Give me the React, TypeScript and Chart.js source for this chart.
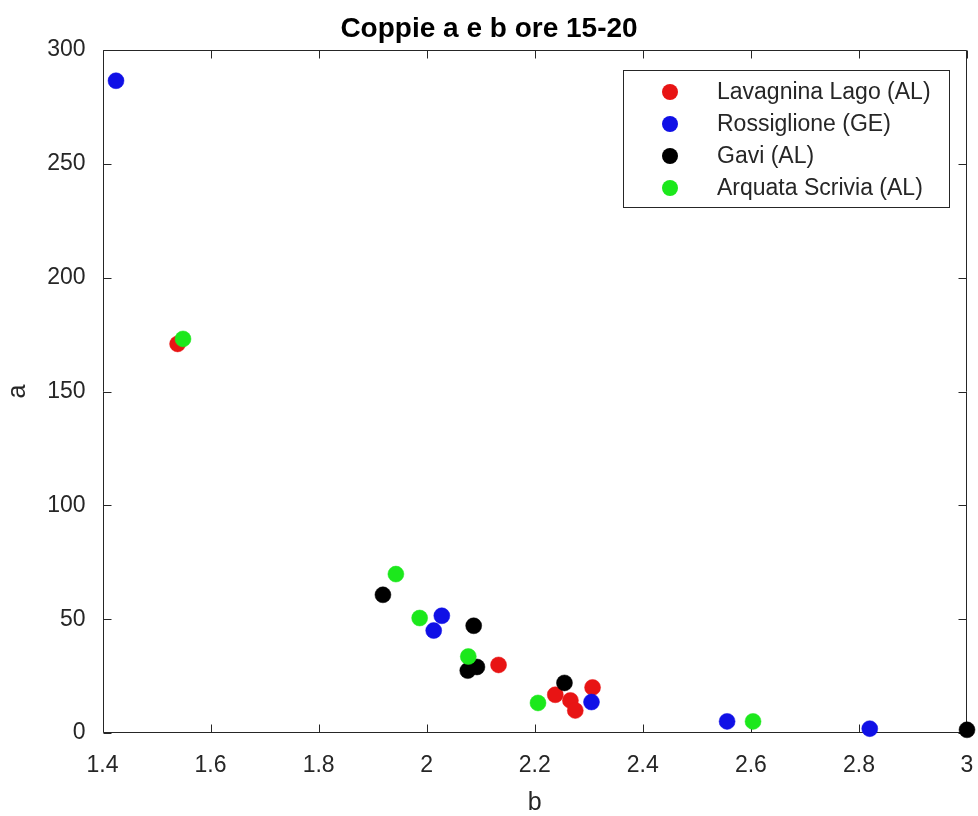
import { useEffect, useRef } from 'react';
import { Chart, registerables } from 'chart.js';

Chart.register(...registerables);

const chartTitle = 'Coppie a e b ore 15-20';
const xTitle = 'b';
const yTitle = 'a';

const seriesNames = ['Lavagnina Lago (AL)', 'Rossiglione (GE)', 'Gavi (AL)', 'Arquata Scrivia (AL)'];
const seriesColors = ['rgb(232,20,20)', 'rgb(16,16,230)', 'rgb(0,0,0)', 'rgb(28,232,28)'];

const lavagninaB = [1.539, 2.133, 2.238, 2.266, 2.275, 2.307];
const lavagninaA = [170.9, 29.9, 16.8, 14.3, 9.9, 20.0];

const rossiglioneB = [1.425, 2.028, 2.013, 2.305, 2.556, 2.82];
const rossiglioneA = [286.5, 51.5, 45.0, 13.6, 5.1, 1.9];

const gaviB = [1.919, 2.087, 2.076, 2.093, 2.255, 3.0];
const gaviA = [60.7, 47.1, 27.4, 29.0, 22.0, 1.4];

const arquataB = [1.549, 1.943, 1.987, 2.077, 2.206, 2.604];
const arquataA = [173.1, 69.8, 50.5, 33.6, 13.2, 5.1];

const seriesB = [lavagninaB, rossiglioneB, gaviB, arquataB];
const seriesA = [lavagninaA, rossiglioneA, gaviA, arquataA];

const xMin = 1.4;
const xMax = 3.0;
const xStep = 0.2;
const yMin = 0;
const yMax = 300;
const yStep = 50;

const AXIS_COLOR = '#262626';
const FONT = '"Liberation Sans", Arial, Helvetica, sans-serif';

const framePlugin = {
  id: 'matlabFrame',
  beforeDatasetsDraw(chart: any) {
    const { ctx, chartArea } = chart;
    const { left, right, top, bottom } = chartArea;
    const xs = chart.scales.x;
    const ys = chart.scales.y;
    const tick = 8;
    ctx.save();
    ctx.strokeStyle = AXIS_COLOR;
    ctx.lineWidth = 1;
    const L = Math.round(left) + 0.5;
    const R = Math.round(right) - 0.5;
    const T = Math.round(top) + 0.5;
    const B = Math.round(bottom) - 0.5;
    ctx.beginPath();
    ctx.rect(L, T, R - L, B - T);
    xs.ticks.forEach((t: any) => {
      const px = Math.round(xs.getPixelForValue(t.value)) + 0.5;
      ctx.moveTo(px, B);
      ctx.lineTo(px, B - tick);
      ctx.moveTo(px, T);
      ctx.lineTo(px, T + tick);
    });
    ys.ticks.forEach((t: any) => {
      const py = Math.round(ys.getPixelForValue(t.value)) + 0.5;
      ctx.moveTo(L, py);
      ctx.lineTo(L + tick, py);
      ctx.moveTo(R, py);
      ctx.lineTo(R - tick, py);
    });
    ctx.stroke();
    ctx.restore();
  },
  afterDraw(chart: any) {
    const { ctx, chartArea } = chart;
    const boxRight = chartArea.right - 18;
    const boxTop = chartArea.top + 20;
    const boxWidth = 326;
    const rowH = 32;
    const boxHeight = 137;
    const boxLeft = boxRight - boxWidth;
    ctx.save();
    ctx.fillStyle = '#ffffff';
    ctx.fillRect(boxLeft, boxTop, boxWidth, boxHeight);
    ctx.strokeStyle = AXIS_COLOR;
    ctx.lineWidth = 1;
    ctx.strokeRect(Math.round(boxLeft) + 0.5, Math.round(boxTop) + 0.5, boxWidth, boxHeight);
    ctx.font = `23px ${FONT}`;
    ctx.textBaseline = 'middle';
    ctx.textAlign = 'left';
    seriesNames.forEach((name, i) => {
      const cy = boxTop + 22 + i * rowH;
      ctx.beginPath();
      ctx.fillStyle = seriesColors[i];
      ctx.arc(boxLeft + 47, cy, 8, 0, Math.PI * 2);
      ctx.fill();
      ctx.fillStyle = AXIS_COLOR;
      ctx.fillText(name, boxLeft + 94, cy + 1);
    });
    ctx.restore();
  },
};

function fmtX(v: number) {
  return String(Number(v.toFixed(1)));
}

export default function App() {
  const ref = useRef<HTMLCanvasElement | null>(null);

  useEffect(() => {
    if (!ref.current) return;
    const datasets = seriesNames.map((name, i) => ({
      label: name,
      data: seriesB[i].map((b, j) => ({ x: b, y: seriesA[i][j] })),
      backgroundColor: seriesColors[i],
      borderColor: seriesColors[i],
      pointRadius: 8,
      pointHoverRadius: 8,
      pointBorderWidth: 0.5,
      clip: false as any,
      order: seriesNames.length - i,
    }));

    const chart = new Chart(ref.current, {
      type: 'scatter',
      data: { datasets },
      plugins: [framePlugin],
      options: {
        animation: false,
        responsive: false,
        events: [],
        layout: { padding: { left: 0, right: 0, top: 0, bottom: 0 } },
        plugins: {
          legend: { display: false },
          tooltip: { enabled: false },
          title: {
            display: true,
            text: chartTitle,
            color: '#000000',
            font: { family: FONT, size: 28, weight: 'bold', lineHeight: 1.2 },
            padding: { top: 12, bottom: 4.4 },
          },
        },
        scales: {
          x: {
            type: 'linear',
            min: xMin,
            max: xMax,
            afterFit: (s: any) => {
              s.height = 816 - 733;
              s.paddingLeft = 0;
              s.paddingRight = 11;
            },
            ticks: {
              stepSize: xStep,
              color: AXIS_COLOR,
              font: { family: FONT, size: 23 },
              padding: 19,
              maxRotation: 0,
              autoSkip: false,
              callback: (v: any) => fmtX(Number(v)),
            },
            grid: { display: false, drawTicks: false },
            border: { display: false },
            title: {
              display: true,
              text: xTitle,
              color: AXIS_COLOR,
              font: { family: FONT, size: 25, lineHeight: 1 },
              padding: { top: 0, bottom: 0 },
            },
          },
          y: {
            type: 'linear',
            min: yMin,
            max: yMax,
            afterFit: (s: any) => {
              s.width = 102.5;
              s.paddingTop = 0;
              s.paddingBottom = 0;
            },
            ticks: {
              stepSize: yStep,
              color: AXIS_COLOR,
              font: { family: FONT, size: 23 },
              padding: 17,
              autoSkip: false,
            },
            grid: { display: false, drawTicks: false },
            border: { display: false },
            title: {
              display: true,
              text: yTitle,
              color: AXIS_COLOR,
              font: { family: FONT, size: 25, lineHeight: 1 },
              padding: { top: 6, bottom: 0 },
            },
          },
        },
      },
    });

    return () => chart.destroy();
  }, []);

  return (
    <div style={{ position: 'fixed', left: 0, top: 0, width: 978, height: 816, background: '#ffffff' }}>
      <canvas ref={ref} width={978} height={816} style={{ width: 978, height: 816, display: 'block' }} />
    </div>
  );
}
